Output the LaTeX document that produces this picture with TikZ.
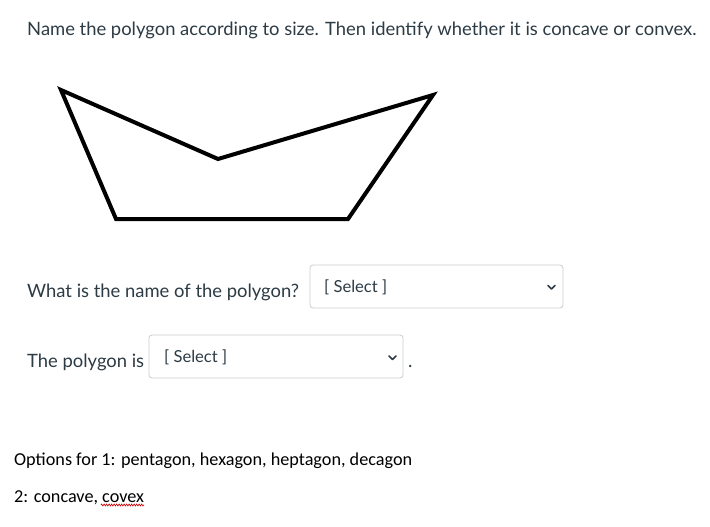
\documentclass[tikz,border=0pt]{standalone}
\usepackage{fontspec}
\setmainfont{Lato}
\newfontfamily\calib{Carlito}
\usetikzlibrary{decorations.pathmorphing}
\definecolor{canvastext}{HTML}{2D3B45}
\definecolor{boxline}{HTML}{C7CDD1}
\definecolor{seltext}{HTML}{2D3B45}
\tikzset{
  lato/.style={font=\fontsize{18.4}{22}\selectfont, text=canvastext, inner sep=0pt, anchor=base west},
  seltxt/.style={font=\fontsize{16.6}{20}\selectfont, text=seltext, inner sep=0pt, anchor=base west},
  optxt/.style={font=\calib\fontsize{18.2}{22}\selectfont, text=black, inner sep=0pt, anchor=base west},
  dropbox/.style={draw=boxline, line width=0.8pt, rounded corners=3pt, fill=white},
  chev/.style={draw=canvastext, line width=1.6pt, line cap=round, line join=round},
  poly/.style={draw=black, line width=4pt, line join=miter}
}
\begin{document}
\begin{tikzpicture}[x=1pt,y=-1pt]
\useasboundingbox (0,0) rectangle (710,527);
\fill[white] (0,0) rectangle (710,527);

\node[lato] (title) at (27,36) {Name the polygon according to size. Then identify whether it is concave or convex.};

% polygon
\coordinate (p1) at (61,90);
\coordinate (p2) at (218,159);
\coordinate (p3) at (433,95);
\coordinate (p4) at (348,219);
\coordinate (p5) at (116,219);
\draw[poly] (p1) -- (p2) -- (p3) -- (p4) -- (p5) -- cycle;

% question 1
\node[lato] (q1) at (27,297) {What is the name of the polygon?};
\draw[dropbox] (310,265) rectangle (563,308);
\node[seltxt] (s1) at (324,292.5) {[ Select ]};
\coordinate (c1a) at (548,285.5);
\coordinate (c1b) at (551.5,289);
\coordinate (c1c) at (555,285.5);
\draw[chev] (c1a) -- (c1b) -- (c1c);

% question 2
\node[lato] (q2) at (27,367) {The polygon is};
\draw[dropbox] (149,335) rectangle (403,378);
\node[seltxt] (s2) at (164,362) {[ Select ]};
\coordinate (c2a) at (389,356);
\coordinate (c2b) at (392.5,359.5);
\coordinate (c2c) at (396,356);
\draw[chev] (c2a) -- (c2b) -- (c2c);
\node[lato] (dot) at (408,367) {.};

% options
\node[optxt] (o1) at (14,465) {Options for 1: pentagon, hexagon, heptagon, decagon};
\node[optxt] (o2) at (14,502) {2: concave, covex};
\coordinate (w1) at (101,505);
\coordinate (w2) at (144,505);
\draw[red!80!black, line width=0.6pt, decorate, decoration={zigzag, amplitude=1pt, segment length=2.5pt}] (w1) -- (w2);
\end{tikzpicture}
\end{document}
